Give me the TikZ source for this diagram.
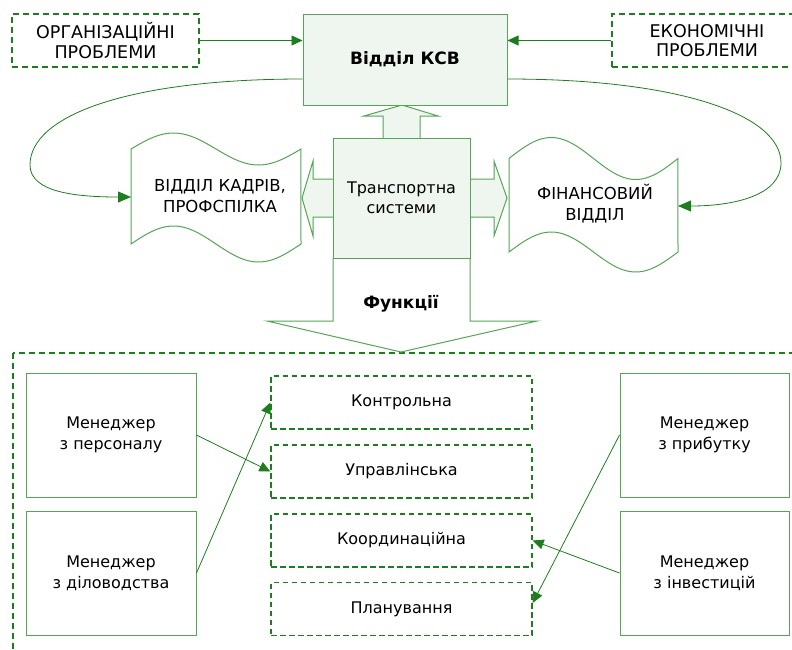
\documentclass[tikz,border=0pt]{standalone}
\usepackage{fontspec}
\setmainfont{DejaVu Sans}
\usetikzlibrary{arrows.meta}
\definecolor{dg}{RGB}{30,125,30}
\definecolor{mg}{RGB}{85,165,85}
\definecolor{lf}{RGB}{239,245,239}
\begin{document}
\begin{tikzpicture}[x=1pt,y=-1pt,
  prob/.style={draw=dg, line width=1.6pt, dash pattern=on 6pt off 4pt, minimum height=53, align=center, inner sep=0pt, font=\fontsize{17.5}{19.5}\selectfont},
  ksvbox/.style={draw=mg, fill=lf, line width=1pt, align=center, inner sep=0pt},
  tape/.style={draw=mg, fill=white, line width=1pt},
  fat/.style={draw=mg, fill=lf, line width=1pt},
  tapetext/.style={align=center, inner sep=0pt, font=\fontsize{16.5}{21}\selectfont},
  mgr/.style={draw=mg, line width=1pt, minimum height=124, align=center, inner sep=0pt, font=\fontsize{16}{21}\selectfont},
  fn/.style={draw=dg, line width=1.3pt, dash pattern=on 5.5pt off 3.5pt, minimum width=261, minimum height=53, inner sep=0pt, font=\fontsize{16}{21}\selectfont},
  arr/.style={draw=dg, line width=0.8pt, -{Triangle[length=11pt,width=10pt]}},
  curv/.style={draw=dg, line width=0.8pt, -{Triangle[length=13pt,width=11pt]}}
]
\useasboundingbox (0,0) rectangle (792,649);

% big dashed frame (clipped at page edges)
\begin{scope}
  \clip (0,0) rectangle (792,649);
  \draw[dg, line width=1.6pt, dash pattern=on 6pt off 4pt] (13,353) rectangle (806,666);
  \node[prob, minimum width=190] (eko) at (707,40.5) {ЕКОНОМІЧНІ\\ПРОБЛЕМИ};
\end{scope}

% problems
\node[prob, minimum width=187] (org) at (105.5,40.5) {ОРГАНІЗАЦІЙНІ\\ПРОБЛЕМИ};

% block arrows
\draw[fat] (383,138) -- (383,116) -- (364,116) -- (402,105) -- (438,116) -- (420,116) -- (420,138);
\draw[fat] (333,179) -- (313,179) -- (313,161) -- (302,198) -- (313,236) -- (313,217) -- (333,217);
\draw[fat] (470,179) -- (494,179) -- (494,161) -- (507,198) -- (494,236) -- (494,217) -- (470,217);
\draw[mg, line width=1pt, fill=white] (333,258) -- (333,321) -- (267,321) -- (401,352) -- (537,321) -- (470,321) -- (470,258);

% main boxes
\node[ksvbox, minimum width=204, minimum height=91, font=\bfseries\fontsize{17}{20}\selectfont] (ksv) at (405,59.5) {Відділ КСВ};
\node[ksvbox, minimum width=137, minimum height=120, font=\fontsize{16}{20}\selectfont] (trans) at (401.5,198) {Транспортна\\системи};

% tapes
\draw[tape] plot[domain=0:1, samples=60, variable=\t] ({131+170*\t},{149-16*sin(360*\t)})
  -- plot[domain=1:0, samples=60, variable=\t] ({131+170*\t},{244-18*sin(360*\t)}) -- cycle;
\draw[tape] plot[domain=0:1, samples=60, variable=\t] ({509+169*\t},{158.5-21*sin(360*\t)})
  -- plot[domain=1:0, samples=60, variable=\t] ({509+169*\t},{252-20*sin(360*\t)}) -- cycle;
\node[tapetext] (kadry) at (220,196) {ВІДДІЛ КАДРІВ,\\ПРОФСПІЛКА};
\node[tapetext] (fin) at (595,204) {ФІНАНСОВИЙ\\ВІДДІЛ};
\coordinate (kadryW) at (131,197);
\coordinate (finE) at (678,206);

% functions label
\node[font=\bfseries\fontsize{17}{20}\selectfont] (fun) at (401,304) {Функції};

% connectors top
\draw[arr] (org.east) -- (org.east -| ksv.west);
\draw[arr] (eko.west) -- (eko.west -| ksv.east);
\draw[curv] ([yshift=-19.5pt]ksv.west) .. controls (130,79) and (30,115) .. (30,165) .. controls (30,192) and (75,197) .. (kadryW);
\draw[curv] ([yshift=-19.5pt]ksv.east) .. controls (680,79) and (781,115) .. (781,163) .. controls (781,195) and (735,206) .. (finE);

% managers
\node[mgr, minimum width=170] (mp) at (111,435) {Менеджер\\з персоналу};
\node[mgr, minimum width=170] (md) at (111,573) {Менеджер\\з діловодства};
\node[mgr, minimum width=169] (mpr) at (704.5,435) {Менеджер\\з прибутку};
\node[mgr, minimum width=169] (mi) at (704.5,573) {Менеджер\\з інвестицій};

% functions
\node[fn] (kontr) at (401.5,402.5) {Контрольна};
\node[fn] (upr) at (401.5,471.5) {Управлінська};
\node[fn] (koord) at (401.5,540.5) {Координаційна};
\node[fn] (plan) at (401.5,609) {Планування};

% connectors bottom
\draw[arr] (mp.east) -- (upr.west);
\draw[arr] (md.east) -- (kontr.west);
\draw[arr] (mpr.west) -- ([yshift=6pt]plan.east);
\draw[arr] (mi.west) -- (koord.east);
\end{tikzpicture}
\end{document}
